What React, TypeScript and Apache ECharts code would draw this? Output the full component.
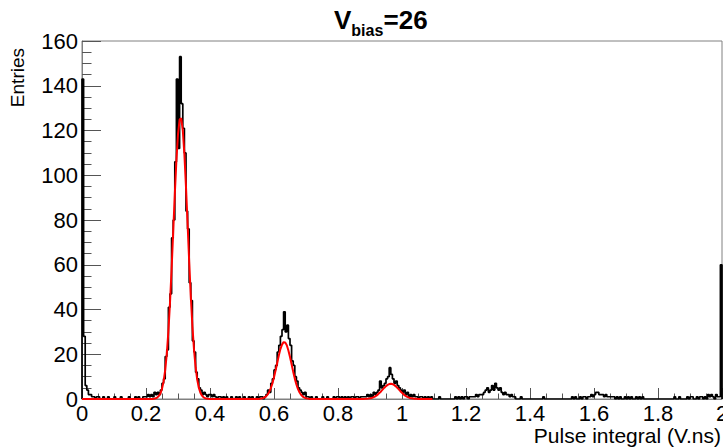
import React, { useEffect, useRef } from "react";
import * as echarts from "echarts";

// Histogram: bin width 0.005, one array per 0.2-wide x range
const BIN = 0.005;
const hist00 = [143, 28, 6, 4, 2, 2, 1, 1, 0, 1, 1, 0, 0, 1, 0, 0, 1, 0, 0, 0, 1, 0, 0, 0, 1, 0, 0, 0, 0, 1, 0, 0, 0, 1, 0, 1, 0, 0, 1, 1];
const hist02 = [1, 2, 1, 2, 1, 3, 2, 3, 2, 4, 7, 9, 19, 22, 41, 47, 72, 80, 106, 143, 112, 153, 132, 121, 110, 84, 76, 52, 44, 26, 21, 12, 9, 5, 4, 2, 3, 2, 1, 2];
const hist04 = [2, 1, 2, 1, 0, 1, 1, 0, 1, 0, 1, 0, 0, 1, 0, 0, 1, 0, 1, 0, 0, 1, 0, 0, 1, 0, 1, 0, 0, 1, 0, 1, 1, 0, 1, 2, 4, 3, 7, 9];
const hist06 = [13, 15, 21, 24, 28, 31, 39, 30, 33, 27, 24, 17, 15, 10, 8, 5, 4, 3, 2, 3, 1, 1, 0, 1, 0, 0, 1, 0, 0, 0, 1, 0, 0, 1, 0, 0, 0, 1, 0, 1];
const hist08 = [1, 0, 1, 0, 1, 0, 1, 0, 1, 1, 0, 1, 1, 0, 1, 1, 1, 1, 2, 1, 2, 1, 3, 2, 3, 4, 8, 5, 6, 7, 9, 10, 14, 11, 9, 7, 8, 6, 5, 4];
const hist10 = [3, 4, 2, 3, 1, 2, 1, 2, 1, 1, 0, 1, 1, 0, 1, 0, 1, 0, 1, 0, 0, 0, 0, 1, 0, 0, 0, 0, 0, 0, 0, 0, 0, 1, 0, 1, 0, 1, 0, 1];
const hist12 = [1, 0, 1, 1, 1, 1, 2, 1, 2, 2, 2, 3, 4, 5, 3, 4, 6, 4, 7, 5, 4, 5, 3, 2, 3, 2, 2, 1, 2, 1, 1, 0, 0, 0, 1, 0, 0, 0, 0, 0];
const hist14 = [0, 0, 0, 0, 0, 0, 0, 0, 1, 0, 0, 0, 0, 0, 0, 0, 0, 0, 0, 0, 0, 0, 0, 0, 0, 0, 1, 0, 1, 0, 0, 1, 0, 1, 1, 0, 1, 1, 2, 1];
const hist16 = [2, 3, 3, 2, 2, 2, 1, 2, 1, 1, 1, 1, 1, 0, 1, 0, 1, 0, 0, 1, 0, 1, 0, 1, 0, 0, 1, 0, 1, 0, 1, 0, 0, 0, 0, 0, 0, 0, 0, 0];
const hist18 = [0, 0, 0, 0, 0, 0, 0, 0, 0, 0, 1, 0, 0, 1, 0, 0, 0, 0, 1, 0, 1, 1, 0, 0, 1, 0, 1, 1, 0, 1, 0, 2, 1, 2, 1, 0, 2, 1, 1, 60];
const histSegments = [hist00, hist02, hist04, hist06, hist08, hist10, hist12, hist14, hist16, hist18];

// Fit curve (red), sampled every 0.005 from 0 to FIT_END; zero outside these segments
const FIT_END = 1.095;
const fitPeak1Start = 0.225;
const fitPeak1 = [0.14, 0.31, 0.65, 1.31, 2.5, 4.54, 7.87, 12.9, 20.3, 30.3, 43.0, 58.1, 74.7, 91.5, 106.6, 118.3, 124.9, 125.5, 120.0, 109.3, 94.7, 78.1, 61.3, 45.8, 32.6, 22.1, 14.2, 8.7, 5.1, 2.8, 1.5, 0.75, 0.36, 0.16, 0.07];
const fitPeak2Start = 0.555;
const fitPeak2 = [0.09, 0.19, 0.37, 0.67, 1.18, 1.98, 3.16, 4.81, 6.99, 9.69, 12.8, 16.1, 19.4, 22.3, 24.3, 25.4, 25.3, 24.0, 21.7, 18.8, 15.5, 12.2, 9.1, 6.5, 4.4, 2.9, 1.8, 1.06, 0.6, 0.32, 0.17, 0.08];
const fitPeak3Start = 0.875;
const fitPeak3 = [0.02, 0.03, 0.06, 0.11, 0.18, 0.3, 0.47, 0.73, 1.07, 1.52, 2.08, 2.75, 3.49, 4.28, 5.06, 5.76, 6.32, 6.68, 6.8, 6.68, 6.32, 5.76, 5.06, 4.28, 3.49, 2.75, 2.08, 1.52, 1.07, 0.73, 0.47, 0.3, 0.18, 0.11, 0.06, 0.03, 0.02, 0.01];

const X_MIN = 0;
const X_MAX = 2;
const X_INTERVAL = 0.2;
const Y_MIN = 0;
const Y_MAX = 160;
const Y_INTERVAL = 20;

const TITLE_MAIN = "V";
const TITLE_SUB = "bias";
const TITLE_TAIL = "=26";
const X_TITLE = "Pulse integral (V.ns)";
const Y_TITLE = "Entries";

const FONT = "'Liberation Sans', Arial, Helvetica, sans-serif";

function buildHist(): number[][] {
  const all = histSegments.flat();
  const pts: number[][] = [[X_MIN, 0]];
  all.forEach((v, i) => pts.push([Math.round(i * BIN * 1000) / 1000, v]));
  pts.push([X_MAX, 0]);
  return pts;
}

function buildFit(): number[][] {
  const segs = [
    { start: fitPeak1Start, values: fitPeak1 },
    { start: fitPeak2Start, values: fitPeak2 },
    { start: fitPeak3Start, values: fitPeak3 },
  ];
  const n = Math.round(FIT_END / BIN);
  const pts: number[][] = [];
  for (let i = 0; i <= n; i++) {
    const x = Math.round(i * BIN * 1000) / 1000;
    let y = 0;
    for (const s of segs) {
      const j = Math.round((x - s.start) / BIN);
      if (j >= 0 && j < s.values.length) y = s.values[j];
    }
    pts.push([x, y]);
  }
  return pts;
}

export default function App() {
  const ref = useRef<HTMLDivElement>(null);
  useEffect(() => {
    if (!ref.current) return;
    const chart = echarts.init(ref.current, undefined, { renderer: "svg" });
    const axisLabel = { fontFamily: FONT, fontSize: 22, color: "#000" };
    const axisLine = { show: true, onZero: false, lineStyle: { color: "#808080", width: 1 } };
    chart.setOption({
      animation: false,
      backgroundColor: "#fff",
      grid: {
        left: 82,
        right: 1,
        top: 41,
        bottom: 49,
        show: true,
        borderColor: "#808080",
        borderWidth: 1,
        backgroundColor: "transparent",
        containLabel: false,
        outerBoundsMode: "none",
      },
      xAxis: {
        type: "value",
        min: X_MIN,
        max: X_MAX,
        interval: X_INTERVAL,
        axisLine,
        splitLine: { show: false },
        axisTick: { show: true, inside: true, length: 11, lineStyle: { color: "#555" } },
        minorTick: { show: true, splitNumber: 4, length: 5.5, lineStyle: { color: "#555" } },
        axisLabel: { ...axisLabel, margin: 3, showMaxLabel: true, hideOverlap: false },
      },
      yAxis: {
        type: "value",
        min: Y_MIN,
        max: Y_MAX,
        interval: Y_INTERVAL,
        axisLine,
        splitLine: { show: false },
        axisTick: { show: true, inside: true, length: 19, lineStyle: { color: "#555" } },
        minorTick: { show: true, splitNumber: 4, length: 9.5, lineStyle: { color: "#555" } },
        axisLabel: { ...axisLabel, margin: 4 },
      },
      graphic: [
        {
          type: "text",
          x: 334,
          y: 20,
          style: { text: TITLE_MAIN, fontFamily: FONT, fontSize: 26, fontWeight: "bold", fill: "#000", align: "left", verticalAlign: "middle" },
        },
        {
          type: "text",
          x: 351.3,
          y: 30,
          style: { text: TITLE_SUB, fontFamily: FONT, fontSize: 16, fontWeight: "bold", fill: "#000", align: "left", verticalAlign: "middle" },
        },
        {
          type: "text",
          x: 383.5,
          y: 20,
          style: { text: TITLE_TAIL, fontFamily: FONT, fontSize: 26, fontWeight: "bold", fill: "#000", align: "left", verticalAlign: "middle" },
        },
        {
          type: "text",
          x: 17,
          y: 48,
          rotation: Math.PI / 2,
          style: { text: Y_TITLE, fontFamily: FONT, fontSize: 19, fill: "#000", align: "right", verticalAlign: "middle" },
        },
        {
          type: "text",
          x: 721,
          y: 435,
          style: { text: X_TITLE, fontFamily: FONT, fontSize: 21, fill: "#000", align: "right", verticalAlign: "middle" },
        },
      ],
      series: [
        {
          type: "line",
          step: "end",
          data: buildHist(),
          symbol: "none",
          lineStyle: { color: "#000", width: 1.7 },
          z: 2,
        },
        {
          type: "line",
          data: buildFit(),
          symbol: "none",
          smooth: false,
          lineStyle: { color: "#ff0000", width: 2 },
          z: 3,
        },
      ],
    });
    return () => chart.dispose();
  }, []);
  return <div ref={ref} style={{ position: "fixed", left: 0, top: 0, width: 723, height: 448 }} />;
}
